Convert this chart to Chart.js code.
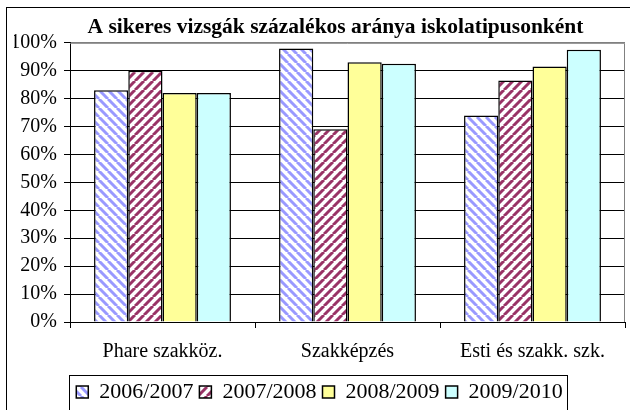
<!DOCTYPE html>
<html>
<head>
<meta charset="utf-8">
<script src="https://cdn.jsdelivr.net/npm/chart.js@4/dist/chart.umd.min.js"></script>
<style>
  body { margin: 0; background: #fff; }
  #wrap { width: 630px; height: 410px; }
</style>
</head>
<body>
<div id="wrap"><canvas id="chart" width="630" height="410"></canvas></div>
<script>
const categories = ['Phare szakköz.', 'Szakképzés', 'Esti és szakk. szk.'];
const seriesNames = ['2006/2007', '2007/2008', '2008/2009', '2009/2010'];
const values2006 = [83, 98, 74];
const values2007 = [90, 69, 86.5];
const values2008 = [82, 93, 91.5];
const values2009 = [82, 92.5, 97.5];
const yTicks = [0, 10, 20, 30, 40, 50, 60, 70, 80, 90, 100];

function stripes(color, dir) {
  const n = 9;
  const c = document.createElement('canvas');
  c.width = n; c.height = n;
  const g = c.getContext('2d');
  g.fillStyle = '#fff';
  g.fillRect(0, 0, n, n);
  g.strokeStyle = color;
  g.lineWidth = 3;
  for (let o = -n; o <= n; o += n) {
    g.beginPath();
    if (dir > 0) { g.moveTo(o, 0); g.lineTo(o + n, n); }
    else { g.moveTo(o, n); g.lineTo(o + n, 0); }
    g.stroke();
  }
  return g.createPattern(c, 'repeat');
}

const serif = 'Liberation Serif, Times New Roman, serif';

const frame = {
  id: 'frame',
  afterLayout(chart) {
    // title sits a bit right of the canvas centre
    chart.titleBlock.left = 46;
  },
  afterDraw(chart) {
    const ctx = chart.ctx;
    const a = chart.chartArea;
    ctx.save();
    // plot area border
    ctx.strokeStyle = '#808080';
    ctx.lineWidth = 1;
    ctx.beginPath();
    ctx.moveTo(a.left, a.top + 0.5);
    ctx.lineTo(a.right - 0.5, a.top + 0.5);
    ctx.lineTo(a.right - 0.5, a.bottom);
    ctx.stroke();
    // outer frame
    ctx.strokeStyle = '#000';
    ctx.strokeRect(6.5, 7.5, 640, 420);
    // legend border
    const boxes = chart.legend.legendHitBoxes;
    if (boxes && boxes.length) {
      const l = Math.min(...boxes.map(b => b.left)) - 7;
      const r = Math.max(...boxes.map(b => b.left + b.width)) + 5;
      const t = Math.min(...boxes.map(b => b.top)) - 6;
      ctx.strokeRect(Math.round(l) + 0.5, Math.round(t) + 0.5, Math.round(r - l), 40);
    }
    ctx.restore();
  }
};

new Chart(document.getElementById('chart'), {
  type: 'bar',
  data: {
    labels: categories,
    datasets: [
      { label: seriesNames[0], data: values2006, backgroundColor: stripes('#9999FF', 1) },
      { label: seriesNames[1], data: values2007, backgroundColor: stripes('#993366', -1) },
      { label: seriesNames[2], data: values2008, backgroundColor: '#FFFF99' },
      { label: seriesNames[3], data: values2009, backgroundColor: '#CCFFFF' }
    ].map(d => Object.assign(d, { borderColor: '#000', borderWidth: 1.5, categoryPercentage: 0.74, barPercentage: 1 }))
  },
  options: {
    responsive: false,
    animation: false,
    layout: { padding: { left: 14, right: 5, top: 0, bottom: -3 } },
    plugins: {
      title: {
        display: true,
        text: 'A sikeres vizsgák százalékos aránya iskolatipusonként',
        color: '#000',
        font: { family: serif, size: 21.5, weight: 'bold' },
        padding: { top: 15, bottom: 2 }
      },
      legend: {
        position: 'bottom',
        labels: {
          color: '#000',
          font: { family: serif, size: 22 },
          boxWidth: 12,
          boxHeight: 12,
          padding: 6
        }
      },
      tooltip: { enabled: false }
    },
    scales: {
      x: {
        afterFit(s) { s.height = 53; },
        grid: { display: true, drawOnChartArea: false, drawTicks: true, tickLength: 6, color: '#000', offset: true },
        border: { color: '#000', width: 1 },
        ticks: { color: '#000', font: { family: serif, size: 20 }, padding: 12 }
      },
      y: {
        min: 0,
        max: 100,
        afterFit(s) { s.width = 56; },
        afterBuildTicks(s) { s.ticks = yTicks.map(v => ({ value: v })); },
        grid: {
          color: c => (c.tick && c.tick.value === 100 ? '#808080' : '#000'),
          tickColor: '#000',
          tickLength: 6
        },
        border: { color: '#000', width: 1 },
        ticks: {
          color: '#000',
          font: { family: serif, size: 20 },
          padding: 7,
          callback: v => v + '%'
        }
      }
    }
  },
  plugins: [frame]
});
</script>
</body>
</html>
